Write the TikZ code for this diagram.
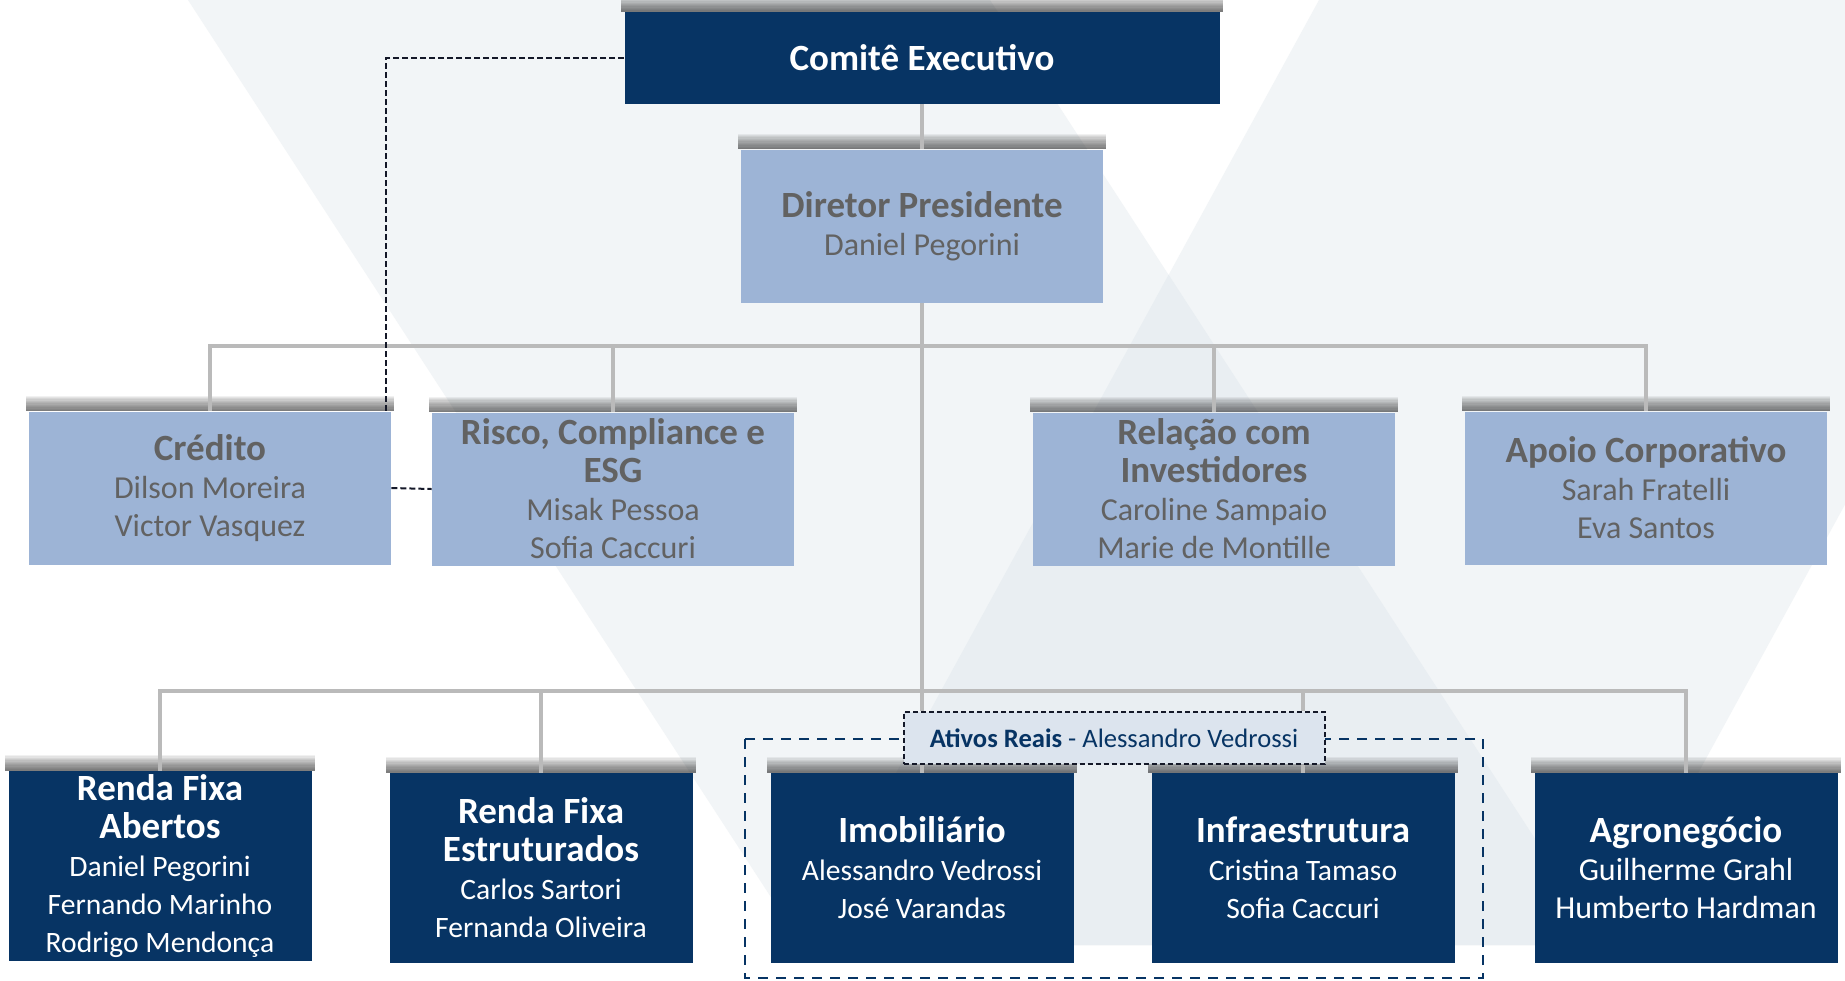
\documentclass[tikz,border=0pt]{standalone}
\usepackage{fontspec}
\setmainfont{Carlito}
\usetikzlibrary{calc}
\definecolor{navy}{RGB}{7,52,100}
\definecolor{lightblue}{RGB}{157,180,214}
\definecolor{graytext}{RGB}{98,98,98}
\definecolor{conncol}{RGB}{186,186,186}
\definecolor{bandc}{RGB}{242,245,247}
\definecolor{overlapc}{RGB}{233,238,242}
\definecolor{ativosfill}{RGB}{220,228,238}
\definecolor{dashcol}{RGB}{20,24,40}
\newcommand\ttl[1]{{\fontsize{18.5}{19}\selectfont\bfseries #1}}
\begin{document}
\begin{tikzpicture}[x=0.5pt,y=-0.5pt,
  boxbase/.style={rectangle, inner sep=0pt, align=center,
    font=\fontsize{16}{19}\selectfont},
  lightnode/.style={boxbase, fill=lightblue, text=graytext, minimum width=181pt, minimum height=76.5pt},
  navynode/.style={boxbase, fill=navy, text=white, minimum width=151.5pt, minimum height=95pt},
  smallnames/.style={font=\fontsize{14.8}{19}\selectfont},
  connline/.style={draw=conncol, line width=1.6pt},
  dashline/.style={draw=dashcol, line width=1pt, dash pattern=on 3pt off 1.5pt},
  groupline/.style={draw=navy, line width=1pt, dash pattern=on 5pt off 4pt},
  shadowstep/.style={fill=black, opacity=0.055},
  ativosnode/.style={rectangle, inner sep=0pt, fill=ativosfill, draw=dashcol, line width=1pt,
    dash pattern=on 2.5pt off 1.5pt, minimum width=210.5pt, minimum height=26pt,
    text=navy, font=\fontsize{13.3}{15}\selectfont}
]
\useasboundingbox (0,0) rectangle (1845,980);
\fill[white] (0,0) rectangle (1845,980);
% background logo bands
\begin{scope}
  \clip (0,0) rectangle (1845,980);
  \fill[bandc] (188,0) -- (990,0) -- (1604,945) -- (802,945) -- cycle;
  \fill[bandc] (1319,0) -- (2121,0) -- (1604,945) -- (802,945) -- cycle;
  \fill[overlapc] (1168.6,274.7) -- (1604,945) -- (802,945) -- cycle;
\end{scope}

% group frame (behind everything)
\draw[groupline] (745,739) rectangle (1483,978);

% nodes
\node[navynode, minimum width=297.5pt, minimum height=46pt,
      font=\fontsize{18.5}{19}\selectfont\bfseries] (comite) at (922,58) {Comitê Executivo};
\node[lightnode] (diretor) at (922,226) {\ttl{Diretor Presidente}\\Daniel Pegorini};

\node[lightnode] (credito) at (210,488) {\ttl{Crédito}\\Dilson Moreira\\Victor Vasquez};
\node[lightnode] (risco) at (613,489) {\ttl{Risco, Compliance e}\\\ttl{ESG}\\Misak Pessoa\\Sofia Caccuri};
\node[lightnode] (relacao) at (1214,489) {\ttl{Relação com}\\\ttl{Investidores}\\Caroline Sampaio\\Marie de Montille};
\node[lightnode] (apoio) at (1646,488) {\ttl{Apoio Corporativo}\\Sarah Fratelli\\Eva Santos};

\node[navynode, smallnames] (rfa) at (160,866) {\ttl{Renda Fixa}\\\ttl{Abertos}\\Daniel Pegorini\\Fernando Marinho\\Rodrigo Mendonça};
\node[navynode, smallnames] (rfe) at (541,868) {\ttl{Renda Fixa}\\\ttl{Estruturados}\\Carlos Sartori\\Fernanda Oliveira};
\node[navynode, smallnames] (imob) at (922,868) {\ttl{Imobiliário}\\Alessandro Vedrossi\\José Varandas};
\node[navynode, smallnames] (infra) at (1303,868) {\ttl{Infraestrutura}\\Cristina Tamaso\\Sofia Caccuri};
\node[navynode] (agro) at (1686,868) {\ttl{Agronegócio}\\Guilherme Grahl\\Humberto Hardman};

% soft top shadows of the boxes
\foreach \n in {comite,diretor,credito,risco,relacao,apoio,rfa,rfe,imob,infra,agro}
  \foreach \i in {1,...,12}
    \fill[shadowstep] ([xshift=-1.5pt]\n.north west) rectangle ([xshift=1.5pt,yshift=\i*0.65pt]\n.north east);

\node[ativosnode] (ativos) at (1114,738) {\textbf{Ativos Reais} - Alessandro Vedrossi};

% bus coordinates
\coordinate (bus2) at (922,346);
\coordinate (bus3) at (922,691);

% connectors
\draw[connline] (comite.south) -- (diretor.north);
\draw[connline] (diretor.south) -- (diretor.south |- ativos.north);
\draw[connline] (credito.north) -- (credito.north |- bus2) -- (apoio.north |- bus2) -- (apoio.north);
\draw[connline] (risco.north) -- (risco.north |- bus2);
\draw[connline] (relacao.north) -- (relacao.north |- bus2);
\draw[connline] (rfa.north) -- (rfa.north |- bus3) -- (agro.north |- bus3) -- (agro.north);
\draw[connline] (rfe.north) -- (rfe.north |- bus3);
\draw[connline] (infra.north |- bus3) -- (infra.north |- ativos.north);
\draw[connline] (imob.north |- ativos.south) -- (imob.north);
\draw[connline] (infra.north |- ativos.south) -- (infra.north);

% dashed links
\draw[dashline] (comite.west) -| ([xshift=-2.5pt]credito.north east);
\draw[dashline] (credito.east) -- (risco.west);
\end{tikzpicture}
\end{document}
